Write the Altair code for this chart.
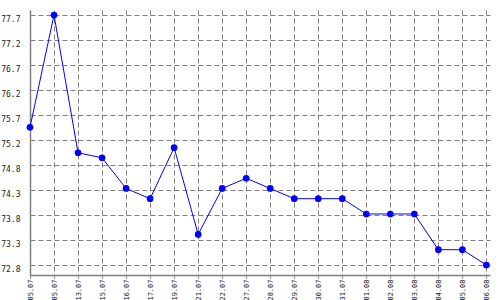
import altair as alt
import pandas as pd

dates = ["05.07", "05.07", "13.07", "15.07", "16.07", "17.07", "19.07", "21.07",
         "22.07", "27.07", "28.07", "29.07", "30.07", "31.07", "01.08", "02.08",
         "03.08", "04.08", "05.08", "06.08"]
values = [75.5, 77.7, 75.0, 74.9, 74.3, 74.1, 75.1, 73.4, 74.3, 74.5, 74.3,
          74.1, 74.1, 74.1, 73.8, 73.8, 73.8, 73.1, 73.1, 72.8]
y_tick_values = [72.8, 73.29, 73.78, 74.27, 74.76, 75.25, 75.74, 76.23, 76.72, 77.21, 77.7]
y_tick_labels = ["72.8", "73.3", "73.8", "74.3", "74.8", "75.2", "75.7", "76.2", "76.7", "77.2", "77.7"]

df = pd.DataFrame({"idx": list(range(len(dates))), "value": values})

x_label_expr = "[" + ",".join(f"'{d}'" for d in dates) + "][datum.value]"
y_label_expr = "[" + ",".join(f"'{l}'" for l in y_tick_labels) + "][round((datum.value - 72.8) / 0.49)]"

font = "DejaVu Sans Mono"

x_enc = alt.X(
    "idx:Q",
    scale=alt.Scale(domain=[0, 19.15], nice=False, zero=False),
    axis=alt.Axis(
        values=list(range(len(dates))), labelExpr=x_label_expr, labelAngle=270,
        labelAlign="right", labelBaseline="middle", labelPadding=1,
        labelFont=font, labelFontSize=7, labelColor="#222222",
        labelOverlap=False, labelFlush=False,
        domainColor="#808080", domainWidth=1.5,
        tickColor="#808080", tickSize=3,
        grid=True, gridColor="#808080", gridDash=[5, 3], gridWidth=1,
        title=None,
    ),
)
y_enc = alt.Y(
    "value:Q",
    scale=alt.Scale(domain=[72.604, 77.798], nice=False, zero=False),
    axis=alt.Axis(
        values=y_tick_values, labelExpr=y_label_expr,
        labelFont=font, labelFontSize=8, labelColor="#222222",
        labelPadding=10, labelOffset=4, labelOverlap=False, labelFlush=False,
        ticks=False,
        domainColor="#808080", domainWidth=1.5,
        grid=True, gridColor="#808080", gridDash=[5, 3], gridWidth=1,
        title=None,
    ),
)

line = alt.Chart(df).mark_line(color="#0000ff", strokeWidth=1).encode(x=x_enc, y=y_enc)
pts = alt.Chart(df).mark_circle(color="#0000ff", size=45, opacity=1).encode(x=x_enc, y=y_enc)

chart = alt.layer(line, pts).properties(
    width=460, height=265,
    padding={"left": 30, "top": 10, "right": 10, "bottom": 25},
    autosize=alt.AutoSizeParams(type="none"),
    background="white",
).configure_view(stroke=None)

chart.save("out.html", embed_options={"renderer": "svg", "actions": False})
